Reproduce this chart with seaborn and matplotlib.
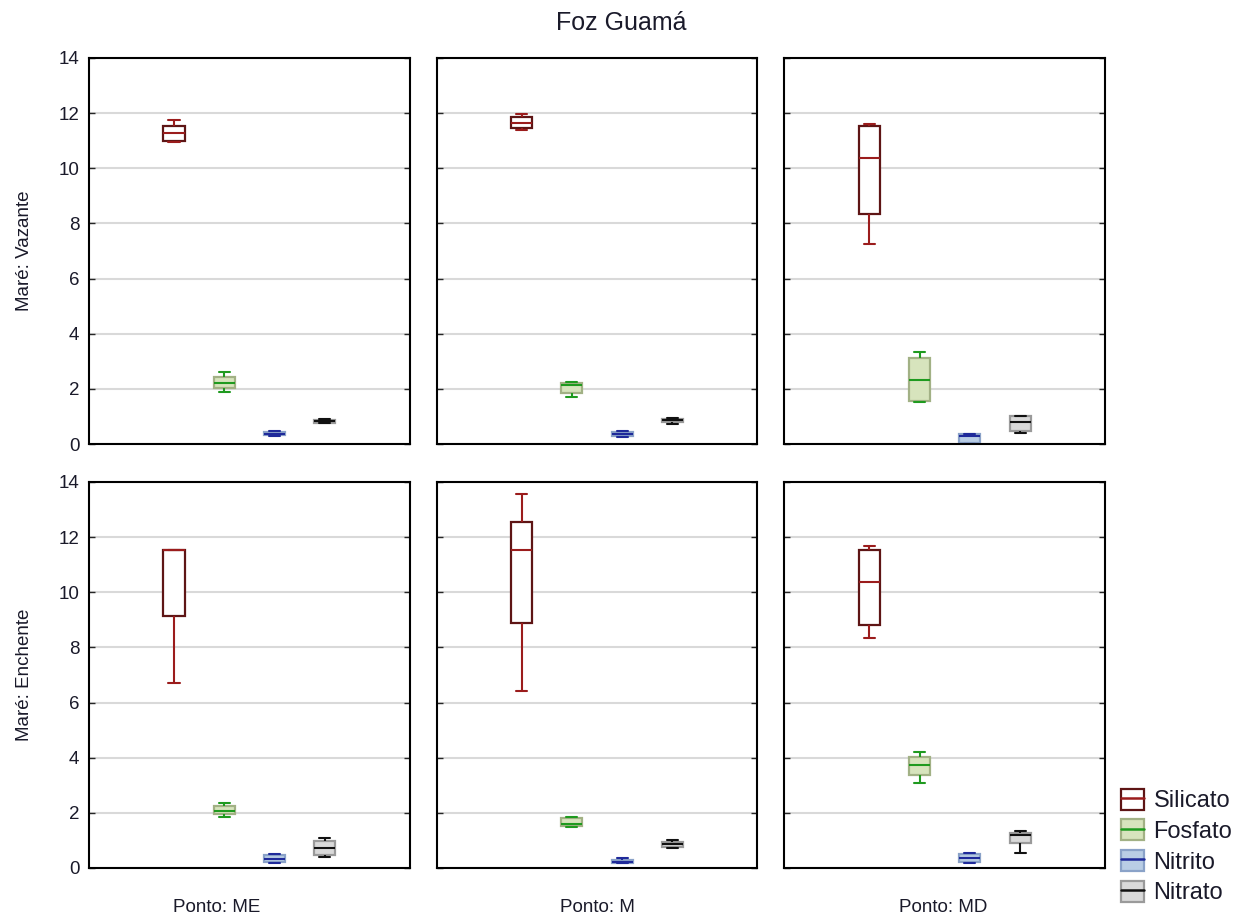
import seaborn as sns
import matplotlib.pyplot as plt
import pandas as pd
from matplotlib.patches import Patch
from matplotlib.lines import Line2D

sns.set_style("white")
plt.rcParams['font.family'] = ['Liberation Sans', 'DejaVu Sans']

nutrientes = ["Silicato", "Fosfato", "Nitrito", "Nitrato"]
pontos = ["ME", "M", "MD"]
mares = ["Vazante", "Enchente"]

# min, q1, median, q3, max per nutrient
vazante_me = [[10.95, 11.0, 11.27, 11.55, 11.75],
              [1.87, 2.02, 2.22, 2.42, 2.6],
              [0.3, 0.33, 0.38, 0.42, 0.48],
              [0.75, 0.78, 0.83, 0.88, 0.9]]
vazante_m = [[11.38, 11.45, 11.65, 11.85, 11.97],
             [1.72, 1.86, 2.15, 2.22, 2.25],
             [0.25, 0.3, 0.37, 0.43, 0.48],
             [0.72, 0.8, 0.86, 0.9, 0.93]]
vazante_md = [[7.24, 8.33, 10.36, 11.55, 11.62],
              [1.51, 1.56, 2.32, 3.11, 3.33],
              [0.02, 0.04, 0.3, 0.35, 0.36],
              [0.41, 0.48, 0.79, 1.0, 1.02]]
enchente_me = [[6.72, 9.14, 11.53, 11.53, 11.53],
               [1.86, 1.94, 2.08, 2.25, 2.37],
               [0.18, 0.2, 0.33, 0.48, 0.5],
               [0.41, 0.47, 0.71, 0.99, 1.07]]
enchente_m = [[6.43, 8.9, 11.53, 12.53, 13.55],
              [1.5, 1.52, 1.6, 1.8, 1.86],
              [0.17, 0.18, 0.23, 0.3, 0.35],
              [0.71, 0.77, 0.86, 0.93, 1.0]]
enchente_md = [[8.33, 8.81, 10.36, 11.53, 11.68],
               [3.09, 3.37, 3.74, 4.03, 4.19],
               [0.17, 0.2, 0.35, 0.5, 0.55],
               [0.56, 0.91, 1.2, 1.28, 1.35]]

paineis = {("Vazante", "ME"): vazante_me, ("Vazante", "M"): vazante_m,
           ("Vazante", "MD"): vazante_md, ("Enchente", "ME"): enchente_me,
           ("Enchente", "M"): enchente_m, ("Enchente", "MD"): enchente_md}

fill_cols = ["white", "#d7e4bd", "#b9cde5", "#d9d9d9"]
edge_cols = ["#5e1515", "#a2b185", "#8aa2c8", "#9a9a9a"]
line_cols = ["#9b1c1c", "#1f9a1f", "#1f2a9a", "#111111"]

rows = []
for (mare, ponto), vals in paineis.items():
    for nut, resumo in zip(nutrientes, vals):
        for v in resumo:
            rows.append({"Maré": mare, "Ponto": ponto, "Nutriente": nut, "valor": v})
df = pd.DataFrame(rows)

fig, axes = plt.subplots(2, 3, figsize=(12.42, 9.23), dpi=100, sharey=True)
fig.subplots_adjust(left=0.0717, right=0.8897, top=0.9372, bottom=0.0596,
                    wspace=0.084, hspace=0.098)

for i, mare in enumerate(mares):
    for j, ponto in enumerate(pontos):
        ax = axes[i, j]
        sub = df[(df["Maré"] == mare) & (df["Ponto"] == ponto)]
        sns.boxplot(data=sub, x="Nutriente", y="valor", hue="Nutriente",
                    order=nutrientes, hue_order=nutrientes, whis=(0, 100),
                    width=0.42, palette=fill_cols, legend=False, ax=ax,
                    linewidth=1.5)
        for k, cont in enumerate(ax.containers):
            for b in cont.boxes:
                b.set_facecolor(fill_cols[k])
                b.set_edgecolor(edge_cols[k])
                b.set_linewidth(1.6)
            for ln in list(cont.whiskers) + list(cont.caps) + list(cont.medians):
                ln.set_color(line_cols[k])
                ln.set_linewidth(1.5)
            # narrower caps, as in the original
            for cap in cont.caps:
                xd = cap.get_xdata()
                mid = (xd[0] + xd[-1]) / 2
                cap.set_xdata([mid - 0.11, mid + 0.11])
        ax.set_ylim(0, 14)
        ax.set_xlim(-1.69, 4.69)
        ax.set_yticks(range(0, 15, 2))
        ax.yaxis.grid(True, color="#d9d9d9", linewidth=1.5)
        ax.set_axisbelow(True)
        ax.set_xticks([])
        ax.set_xlabel("")
        ax.set_ylabel("")
        for s in ax.spines.values():
            s.set_color("black")
            s.set_linewidth(1.5)
        ax.tick_params(axis="y", direction="in", length=4, width=1,
                       labelsize=13.5, pad=7, left=True, right=True,
                       labelcolor="#1a1a2a")
        if j == 0:
            ax.set_ylabel(f"Maré: {mare}", fontsize=13.5, labelpad=18,
                          color="#1a1a2a")

for x, ponto in zip([217, 597, 943], pontos):
    fig.text(x / 1242, 1 - 908 / 923, f"Ponto: {ponto}", fontsize=13.5,
             ha="center", va="center", color="#1a1a2a")

fig.suptitle("Foz Guamá", fontsize=18, y=0.988, color="#1a1a2a")

handles = [(Patch(facecolor=f, edgecolor=e, linewidth=1.6),
            Line2D([], [], color=c, linewidth=1.8))
           for f, e, c in zip(fill_cols, edge_cols, line_cols)]
fig.legend(handles, nutrientes, loc="lower left",
           bbox_to_anchor=(1104 / 1242, 1 - 921 / 923), frameon=False,
           fontsize=17, handlelength=1.0, handleheight=1.0,
           handletextpad=0.4, labelspacing=0.3, borderpad=0.2,
           labelcolor="#1a1a2a")

fig.savefig("out.png", dpi=100)
